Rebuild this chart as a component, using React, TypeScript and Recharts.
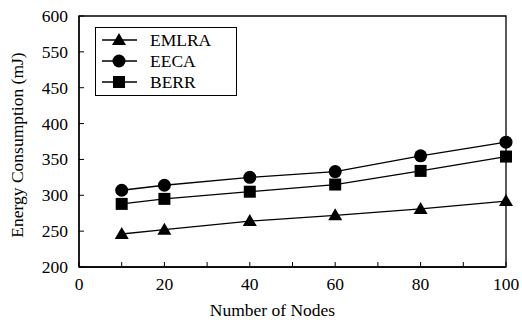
import React from 'react';
import { LineChart, Line, XAxis, YAxis, ReferenceArea, Label } from 'recharts';

// valeurs
const nodes = [10, 20, 40, 60, 80, 100];
const emlra = [246, 252, 264, 272, 281, 292];
const eeca = [307, 314, 325, 333, 355, 374];
const berr = [288, 295, 305, 315, 334, 354];

const xTicks = [0, 10, 20, 30, 40, 50, 60, 70, 80, 90, 100];
const xTickLabels = ['0', '', '20', '', '40', '', '60', '', '80', '', '100'];
const yTicks = [200, 250, 300, 350, 400, 450, 500, 550];
const yTickLabels = ['200', '250', '300', '350', '400', '450', '550', '600'];

const data = nodes.map((n, i) => ({ n, EMLRA: emlra[i], EECA: eeca[i], BERR: berr[i] }));

const FONT = '"Liberation Serif", "DejaVu Serif", serif';

const Marker = ({ cx, cy, kind }: any) => {
  if (cx == null || cy == null) return null;
  if (kind === 'triangle')
    return <polygon points={`${cx},${cy - 7} ${cx + 7},${cy + 5} ${cx - 7},${cy + 5}`} fill="#000" />;
  if (kind === 'circle') return <circle cx={cx} cy={cy} r={6.5} fill="#000" />;
  return <rect x={cx - 6} y={cy - 6} width={12} height={12} fill="#000" />;
};

const series = [
  { key: 'EMLRA', kind: 'triangle' },
  { key: 'EECA', kind: 'circle' },
  { key: 'BERR', kind: 'square' },
];

const XTick = ({ x, y, index }: any) => (
  <g>
    <line x1={x} y1={y} x2={x} y2={y - 5} stroke="#000" />
    <text x={x} y={y + 23} textAnchor="middle" fontSize={17.5} fontFamily={FONT} fill="#000">
      {xTickLabels[index]}
    </text>
  </g>
);

const YTick = ({ x, y, index }: any) => (
  <g>
    <line x1={x} y1={y} x2={x + 5} y2={y} stroke="#000" />
    <text x={x - 11} y={y + 6} textAnchor="end" fontSize={17.5} fontFamily={FONT} fill="#000">
      {yTickLabels[index]}
    </text>
  </g>
);

const LegendBox = () => (
  <svg width={143} height={70} style={{ position: 'absolute', left: 95, top: 27 }}>
    <rect x={0.5} y={0.5} width={141} height={68} fill="#fff" stroke="#000" />
    {series.map((s, i) => {
      const cy = 13 + i * 21;
      return (
        <g key={s.key}>
          <line x1={7} y1={cy} x2={42} y2={cy} stroke="#000" strokeWidth={1.3} />
          <Marker cx={24} cy={cy} kind={s.kind} />
          <text x={55} y={cy + 6} fontSize={17.5} fontFamily={FONT} fill="#000">
            {s.key}
          </text>
        </g>
      );
    })}
  </svg>
);

export default function App() {
  return (
    <div style={{ position: 'absolute', left: 0, top: 0, width: 522, height: 320, background: '#fff' }}>
      <LineChart width={522} height={320} data={data} margin={{ top: 16, right: 16, bottom: 0, left: 0 }}>
        <ReferenceArea x1={0} x2={100} y1={200} y2={550} fill="none" stroke="#000" strokeWidth={1.3} />
        <XAxis
          type="number"
          dataKey="n"
          domain={[0, 100]}
          ticks={xTicks}
          interval={0}
          tickLine={false}
          tickSize={0}
          tickMargin={0}
          axisLine={{ stroke: '#000', strokeWidth: 1.3 }}
          tick={<XTick />}
          height={53}
        >
          <Label
            content={({ viewBox }: any) => (
              <text
                x={viewBox.x + viewBox.width / 2 - 20}
                y={316}
                textAnchor="middle"
                fontSize={17.5}
                fontFamily={FONT}
                fill="#000"
              >
                Number of Nodes
              </text>
            )}
          />
        </XAxis>
        <YAxis
          type="number"
          domain={[200, 550]}
          ticks={yTicks}
          interval={0}
          width={79}
          tickLine={false}
          tickSize={0}
          tickMargin={0}
          axisLine={{ stroke: '#000', strokeWidth: 1.3 }}
          tick={<YTick />}
        >
          <Label
            content={() => (
              <text
                x={23}
                y={145}
                transform="rotate(-90 23 145)"
                textAnchor="middle"
                fontSize={17.5}
                fontFamily={FONT}
                fill="#000"
              >
                Energy Consumption (mJ)
              </text>
            )}
          />
        </YAxis>
        {series.map((s) => (
          <Line
            key={s.key}
            dataKey={s.key}
            stroke="#000"
            strokeWidth={1.3}
            isAnimationActive={false}
            dot={(p: any) => <Marker key={`${s.key}-${p.index}`} cx={p.cx} cy={p.cy} kind={s.kind} />}
            activeDot={false}
          />
        ))}
      </LineChart>
      <LegendBox />
    </div>
  );
}
